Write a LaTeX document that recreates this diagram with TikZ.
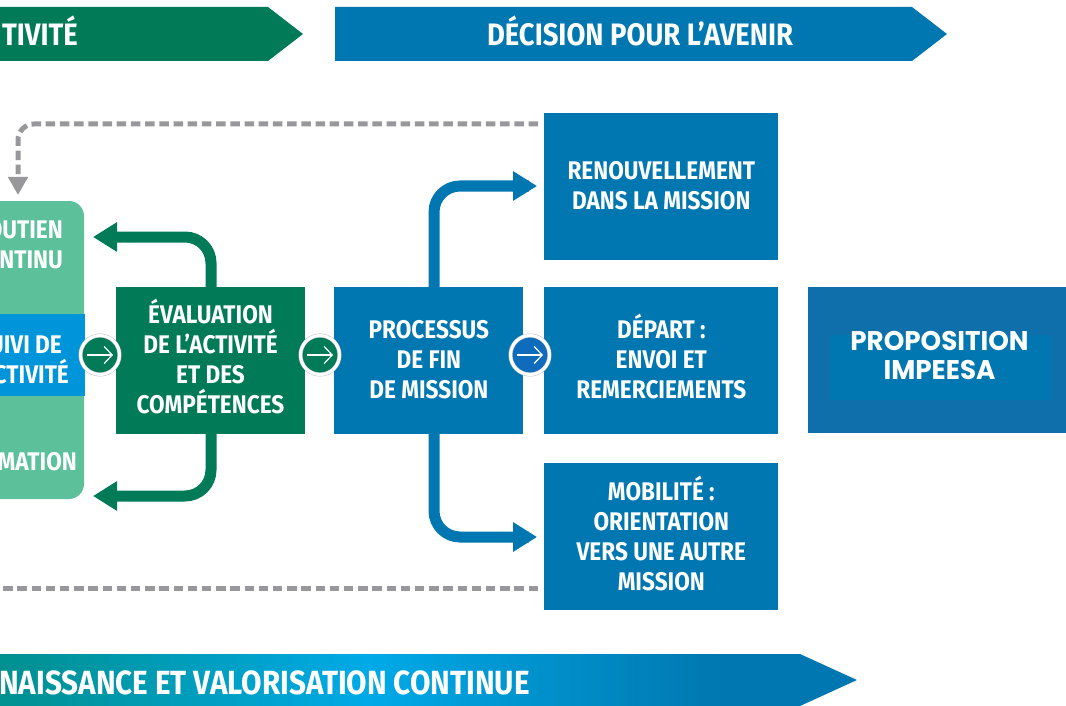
\documentclass[tikz,border=0pt]{standalone}
\usepackage{fontspec}
\setmainfont{Fira Sans}[UprightFont=* Bold,BoldFont=* Bold,FakeStretch=0.885]
\newfontfamily\titlefont{Poppins}[UprightFont=* Bold,FakeStretch=0.97]
\usetikzlibrary{arrows.meta,positioning,calc}
\definecolor{vert}{HTML}{007A57}
\definecolor{vertclair}{HTML}{5CC19B}
\definecolor{bleu}{HTML}{0077B0}
\definecolor{bleuvif}{HTML}{0095DA}
\definecolor{bleuprop}{HTML}{0F6FAB}
\definecolor{bleurond}{HTML}{0F6CBD}
\definecolor{gris}{HTML}{98989C}
\definecolor{bandeaua}{HTML}{00908F}
\definecolor{bandeaub}{HTML}{00AAE7}
\pgfdeclarehorizontalshading{bandeau}{100bp}{color(0bp)=(bandeaua);color(25bp)=(bandeaua);color(46.5bp)=(bandeaub);color(67bp)=(bleu);color(100bp)=(bleu)}
\newcommand{\hautligne}{\rule{0pt}{24.5pt}}
\tikzset{
	boite/.style={minimum height=147pt,inner sep=0pt,align=center,text=white,font=\fontsize{25.5}{30}\selectfont,
		execute at end node=\rule[-8pt]{0pt}{0pt}},
	titre/.style={text=white,inner sep=0pt,font=\fontsize{31}{34}\selectfont},
	etiquette/.style={text=white,inner sep=0pt,align=right,font=\fontsize{25.5}{30}\selectfont},
	rond/.style={circle,minimum size=39pt,inner sep=0pt,draw=gris!60,double=white,double distance=3pt,line width=.5pt},
	fleche/.style={line width=11pt,rounded corners=26pt,-{Triangle[length=24pt,width=28pt]}},
	tirets/.style={gris,line width=5pt,dash pattern=on 9.5pt off 4.7pt}
}
\begin{document}
\begin{tikzpicture}[x=1pt,y=-1pt,node distance=29pt]
	\useasboundingbox (0,0) rectangle (1066,706);
	% bandeaux
	\fill[vert] (0,7) -- (268,7) -- (303,34) -- (268,61) -- (0,61) -- cycle;
	\fill[bleu] (335,7) -- (912,7) -- (947,34) -- (912,61) -- (335,61) -- cycle;
	\shade[shading=bandeau] (0,654) -- (800,654) -- (857,680) -- (800,706) -- (0,706) -- cycle;
	\node[titre,anchor=east] (activite) at (78,31) {TIVITÉ};
	\node[titre] (avenir) at (640,31) {DÉCISION POUR L’AVENIR};
	\node[titre,anchor=east,font=\fontsize{33.5}{36}\selectfont] (valorisation) at (530,683) {NAISSANCE ET VALORISATION CONTINUE};
	
	% colonne de gauche
	\fill[vertclair,rounded corners=15pt] (-30,201) rectangle (84,499);
	\fill[bleuvif] (0,314) rectangle (85,396);
	\node[etiquette,anchor=east] (soutien) at (63,245) {OUTIEN\\NTINU};
	\node[etiquette,anchor=east] (suivi) at (69,360) {UIVI DE\hspace*{7pt}\\CTIVITÉ};
	\node[etiquette,anchor=east] (formation) at (77,462) {MATION};
	\coordinate (retourhaut) at (18,195);
	\coordinate (soutienfl) at (93,237);
	\coordinate (formationfl) at (93,496);
	
	% boites
	\node[boite,fill=vert,minimum width=189pt] (eval) at (210.5,360.5) {\hautligne ÉVALUATION\\DE L’ACTIVITÉ\\ET DES\\COMPÉTENCES};
	\node[boite,fill=bleu,minimum width=189pt] (proc) [right=of eval] {\hautligne PROCESSUS\\DE FIN\\DE MISSION};
	\node[boite,fill=bleu,minimum width=234pt] (depart) [right=20.5pt of proc] {\hautligne DÉPART :\\ENVOI ET\\REMERCIEMENTS};
	\node[boite,fill=bleu,minimum width=234pt] (renouv) [above=27pt of depart] {\hautligne RENOUVELLEMENT\\DANS LA MISSION};
	\node[boite,fill=bleu,minimum width=234pt] (mobil) [below=of depart] {\hautligne MOBILITÉ :\\ORIENTATION\\VERS UNE AUTRE\\MISSION};
	\node[fill=bleuprop,minimum width=258pt,minimum height=146pt,inner sep=0pt] (prop) at (937,360) {};
	\node[fill=bleu,minimum width=221pt,minimum height=65pt,inner sep=0pt] (propfond) at (940.5,367.5) {};
	\node[inner sep=0pt,align=center,text=white,font=\titlefont\fontsize{27}{29}\selectfont] (impeesa) at (939.5,355) {PROPOSITION\\IMPEESA};
	
	% fleches
	\draw[fleche,vert] (eval.north -| 211,0) |- (soutienfl);
	\draw[fleche,vert] (eval.south -| 211,0) |- (formationfl);
	\draw[fleche,bleu] (proc.north -| 434,0) |- (renouv.west |- 0,186) -- ++(-7,0);
	\draw[fleche,bleu] (proc.south -| 434,0) |- (mobil.west |- 0,537) -- ++(-7,0);
	
	% retours en tirets
	\coordinate (departhaut) at (538,124);
	\coordinate (departbas) at (538,588);
	\coordinate (retourbas) at (0,588);
	\draw[tirets,-{Triangle[length=18pt,width=19pt]},rounded corners=16pt] (departhaut) -| (retourhaut);
	\draw[tirets] (departbas) -- (retourbas);
	
	% ronds
	\node[rond,fill=vert] (rond1) at (100,355) {};
	\node[rond,fill=vert] (rond2) at (320,355) {};
	\node[rond,fill=bleurond] (rond3) at (530,355) {};
	\foreach \n in {1,2,3}
		\draw[white,line width=1.2pt,-{Straight Barb[length=8pt,width=17pt]}] ($(rond\n.center)+(-13,0)$) -- ($(rond\n.center)+(13,0)$);
\end{tikzpicture}
\end{document}
